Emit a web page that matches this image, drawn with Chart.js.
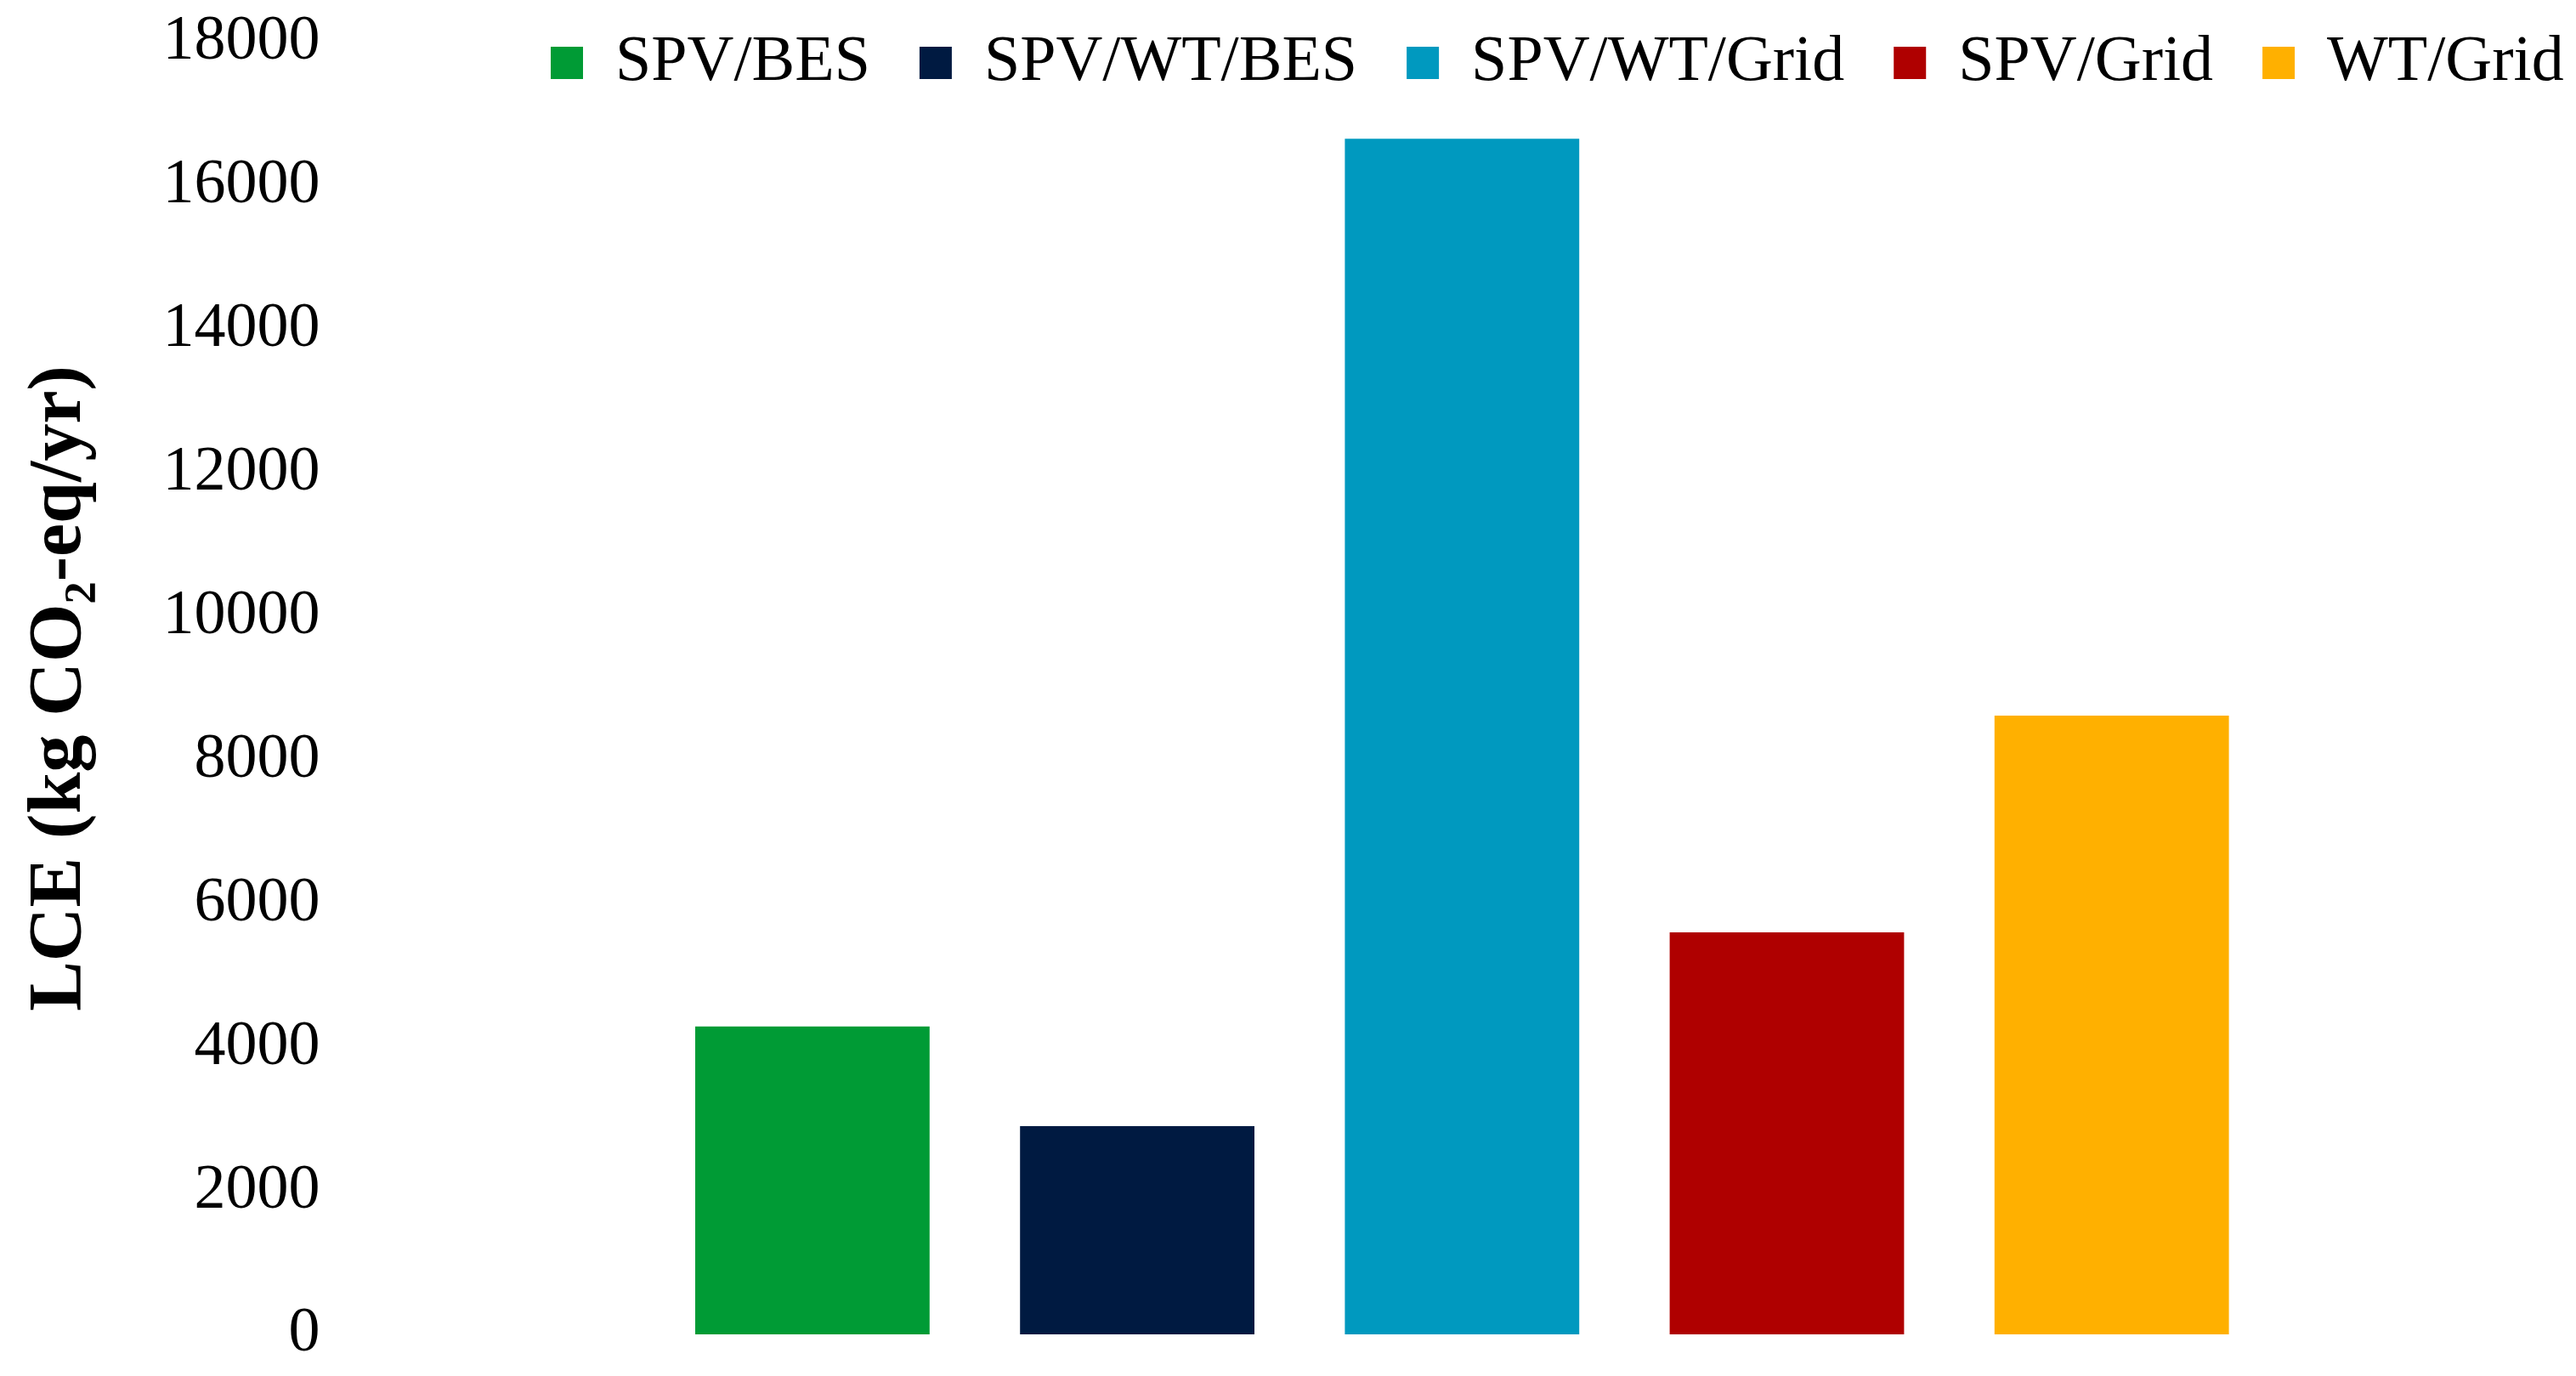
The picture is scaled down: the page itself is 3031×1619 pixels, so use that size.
<!DOCTYPE html>
<html>
<head>
<meta charset="utf-8">
<script src="https://cdn.jsdelivr.net/npm/chart.js@4.4.1/dist/chart.umd.min.js"></script>
<style>
  html, body { margin: 0; padding: 0; background: #fff; }
  #wrap { width: 3031px; height: 1619px; position: relative; }
</style>
</head>
<body>
<div id="wrap"><canvas id="lceChart"></canvas></div>
<script>
// systems shown in the legend (one bar each)
const systems = ['SPV/BES', 'SPV/WT/BES', 'SPV/WT/Grid', 'SPV/Grid', 'WT/Grid']
// LCE values, kg CO2-eq/yr
const lceValues = [4290, 2900, 16660, 5600, 8620]
const barColors = ['#009B35', '#001A41', '#0099BF', '#AF0000', '#FFB000']
const yTicks = { min: 0, max: 18000, step: 2000 }

// legend is laid over the top of the plot, like the original figure
const legendOverlay = {
  id: 'legendOverlay',
  afterLayout(chart) {
    const lg = chart.legend
    if (!lg) return
    lg.left = 590
    lg.right = 3500
    lg.top = -22
    lg.bottom = 200
  },
}

function createChart() {
  const ctx = document.getElementById('lceChart').getContext('2d')
  Chart.defaults.font.family = '"Liberation Serif", "Times New Roman", serif'
  Chart.defaults.color = '#000'

  return new Chart(ctx, {
    type: 'bar',
    data: {
      labels: [''],
      datasets: systems.map((name, i) => ({
        label: name,
        data: [lceValues[i]],
        backgroundColor: barColors[i],
        borderWidth: 0,
      })),
    },
    options: {
      responsive: true,
      maintainAspectRatio: false,
      animation: false,
      events: [],
      categoryPercentage: 0.729,
      barPercentage: 0.7216,
      layout: {
        padding: { top: 50, bottom: 49, left: 0, right: 0 },
      },
      plugins: {
        tooltip: { enabled: false },
        legend: {
          position: 'top',
          align: 'start',
          maxHeight: 0.001,
          labels: {
            boxWidth: 38,
            boxHeight: 38,
            padding: 58,
            font: { size: 76 },
            color: '#000',
          },
        },
      },
      scales: {
        x: {
          display: false,
          grid: { display: false },
        },
        y: {
          min: yTicks.min,
          max: yTicks.max,
          grid: { display: false, drawTicks: false },
          border: { display: false },
          // tick labels may overflow the plot; spacing comes from layout padding
          afterFit: (scale) => {
            scale.paddingTop = 0
            scale.paddingBottom = 0
          },
          ticks: {
            stepSize: yTicks.step,
            padding: 33,
            font: { size: 74 },
            color: '#000',
            callback: (v) => String(v),
          },
          title: {
            display: true,
            text: 'LCE (kg CO\u2082-eq/yr)',
            font: { size: 88, weight: 'bold' },
            color: '#000',
            padding: { top: 18, bottom: 35 },
          },
        },
      },
    },
    plugins: [legendOverlay],
  })
}

var myChart = createChart()
</script>
</body>
</html>
